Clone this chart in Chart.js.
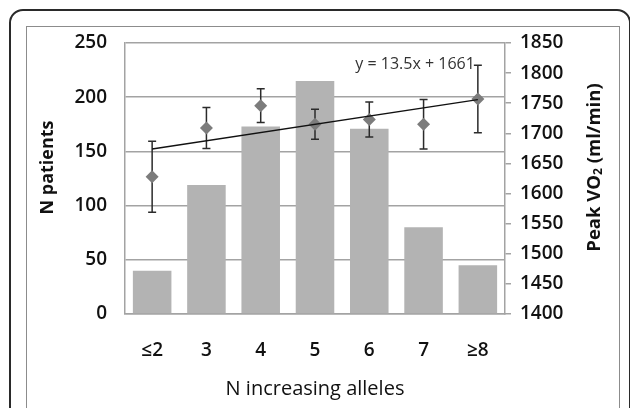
<!DOCTYPE html>
<html>
<head>
<meta charset="utf-8">
<script src="https://cdn.jsdelivr.net/npm/chart.js@4.4.1/dist/chart.umd.min.js"></script>
<style>
  html, body { margin: 0; padding: 0; background: #fff; width: 630px; height: 408px; overflow: hidden; }
  .outer { position: absolute; left: 9px; top: 9px; width: 618px; height: 520px; border: 2px solid #2a2a2a; border-radius: 14px; }
  .inner { position: absolute; left: 26px; top: 26px; width: 592px; height: 520px; border: 1px solid #8c8c8c; }
  .box { position: absolute; left: 27px; top: 27px; width: 592px; height: 381px; }
</style>
</head>
<body>
<div class="outer"></div>
<div class="inner"></div>
<div class="box"><canvas id="chart"></canvas></div>
<script>
// ---------- data ----------
const categories = ["≤2", "3", "4", "5", "6", "7", "≥8"];
const nPatients = [40, 119, 173, 215, 171, 80, 45];
const vo2Mean = [1628, 1709, 1746, 1715, 1723, 1715, 1757];
const vo2Err = [59, 34, 28, 25, 29, 41, 56];
const trendLine = [1674, null, null, null, null, null, 1756];
const trendLabel = "y = 13.5x + 1661";
const nTicks = [0, 50, 100, 150, 200, 250];
const vo2Ticks = [1400, 1450, 1500, 1550, 1600, 1650, 1700, 1750, 1800, 1850];

const leftTitle = "N patients";
const rightTitle = ["Peak VO", "2", " (ml/min)"];
const xTitle = "N increasing alleles";

const FONT = "'Open Sans', 'Liberation Sans', sans-serif";
const TEXT = "#111";
const GRID = "#a3a3a3";

// error bars drawn just before the diamonds
const errorBars = {
  id: "errorBars",
  beforeDatasetDraw(chart, args) {
    if (args.index !== 1) return;
    const { ctx, scales: { x, yR } } = chart;
    ctx.save();
    ctx.strokeStyle = "#2b2b2b";
    ctx.lineWidth = 1.5;
    vo2Mean.forEach((m, i) => {
      const px = x.getPixelForValue(i);
      const top = yR.getPixelForValue(m + vo2Err[i]);
      const bot = yR.getPixelForValue(m - vo2Err[i]);
      ctx.beginPath();
      ctx.moveTo(px, top); ctx.lineTo(px, bot);
      ctx.moveTo(px - 4, top); ctx.lineTo(px + 4, top);
      ctx.moveTo(px - 4, bot); ctx.lineTo(px + 4, bot);
      ctx.stroke();
    });
    ctx.restore();
  },
};

// rotated axis titles + trendline equation
const extraText = {
  id: "extraText",
  afterDraw(chart) {
    const { ctx, chartArea, scales: { x } } = chart;
    const midY = (chartArea.top + chartArea.bottom) / 2 - 11;
    ctx.save();
    ctx.fillStyle = TEXT;
    ctx.textBaseline = "middle";

    ctx.save();
    ctx.font = "bold 18px " + FONT;
    ctx.textAlign = "center";
    ctx.translate(21, midY);
    ctx.rotate(-Math.PI / 2);
    ctx.fillText(leftTitle, 0, 0);
    ctx.restore();

    ctx.save();
    ctx.translate(568, midY);
    ctx.rotate(-Math.PI / 2);
    ctx.textAlign = "left";
    const big = "bold 18.5px " + FONT, small = "bold 12px " + FONT;
    ctx.font = big;
    const w0 = ctx.measureText(rightTitle[0]).width;
    const w2 = ctx.measureText(rightTitle[2]).width;
    ctx.font = small;
    const w1 = ctx.measureText(rightTitle[1]).width;
    let cx = -(w0 + w1 + w2) / 2;
    ctx.font = big;
    ctx.fillText(rightTitle[0], cx, 0);
    cx += w0;
    ctx.font = small;
    ctx.fillText(rightTitle[1], cx, 4);
    cx += w1;
    ctx.font = big;
    ctx.fillText(rightTitle[2], cx, 0);
    ctx.restore();

    ctx.font = "16px " + FONT;
    ctx.fillStyle = "#333";
    ctx.textAlign = "right";
    ctx.fillText(trendLabel, x.getPixelForValue(categories.length - 1) - 3, chartArea.top + 21);
    ctx.restore();
  },
};

const tickFont = { size: 19, family: FONT, weight: "600" };
const fitY = (width) => (s) => {
  s.width = width;
  s.paddingTop = 0;
  s.paddingBottom = 0;
};

new Chart(document.getElementById("chart"), {
  type: "bar",
  data: {
    labels: categories,
    datasets: [
      {
        type: "bar",
        data: nPatients,
        yAxisID: "y",
        backgroundColor: "#b3b3b3",
        barPercentage: 0.71,
        categoryPercentage: 1,
        order: 3,
      },
      {
        type: "line",
        data: vo2Mean,
        yAxisID: "yR",
        showLine: false,
        pointStyle: "rectRot",
        pointRadius: 6.5,
        pointBackgroundColor: "#7c7c7c",
        pointBorderWidth: 0,
        order: 2,
      },
      {
        type: "line",
        data: trendLine,
        yAxisID: "yR",
        spanGaps: true,
        borderColor: "#111",
        borderWidth: 1.3,
        pointRadius: 0,
        order: 1,
      },
    ],
  },
  options: {
    responsive: true,
    maintainAspectRatio: false,
    animation: false,
    layout: { padding: { top: 16, left: 0, right: 0, bottom: 0 } },
    plugins: { legend: { display: false }, tooltip: { enabled: false } },
    scales: {
      x: {
        grid: { drawOnChartArea: false, drawTicks: false },
        border: { color: GRID, width: 1.5 },
        ticks: { padding: 25, color: TEXT, font: tickFont },
        title: {
          display: true,
          text: xTitle,
          color: TEXT,
          font: { size: 20, family: FONT },
          padding: { top: 0, bottom: 7 },
        },
        afterFit: (s) => { s.height = 94; },
      },
      y: {
        position: "left",
        min: nTicks[0],
        max: nTicks[nTicks.length - 1],
        ticks: { stepSize: nTicks[1] - nTicks[0], padding: 18, color: TEXT, font: tickFont },
        grid: { color: GRID, lineWidth: 1.5, drawTicks: false },
        border: { color: GRID, width: 1.5 },
        afterFit: fitY(98),
      },
      yR: {
        position: "right",
        min: vo2Ticks[0],
        max: vo2Ticks[vo2Ticks.length - 1],
        ticks: {
          stepSize: vo2Ticks[1] - vo2Ticks[0],
          padding: 9,
          color: TEXT,
          font: tickFont,
          callback: (v) => String(v),
        },
        grid: { drawOnChartArea: false, drawTicks: true, tickLength: 6, color: GRID, lineWidth: 1.5 },
        border: { color: GRID, width: 1.5 },
        afterFit: fitY(114),
      },
    },
  },
  plugins: [errorBars, extraText],
});
</script>
</body>
</html>
